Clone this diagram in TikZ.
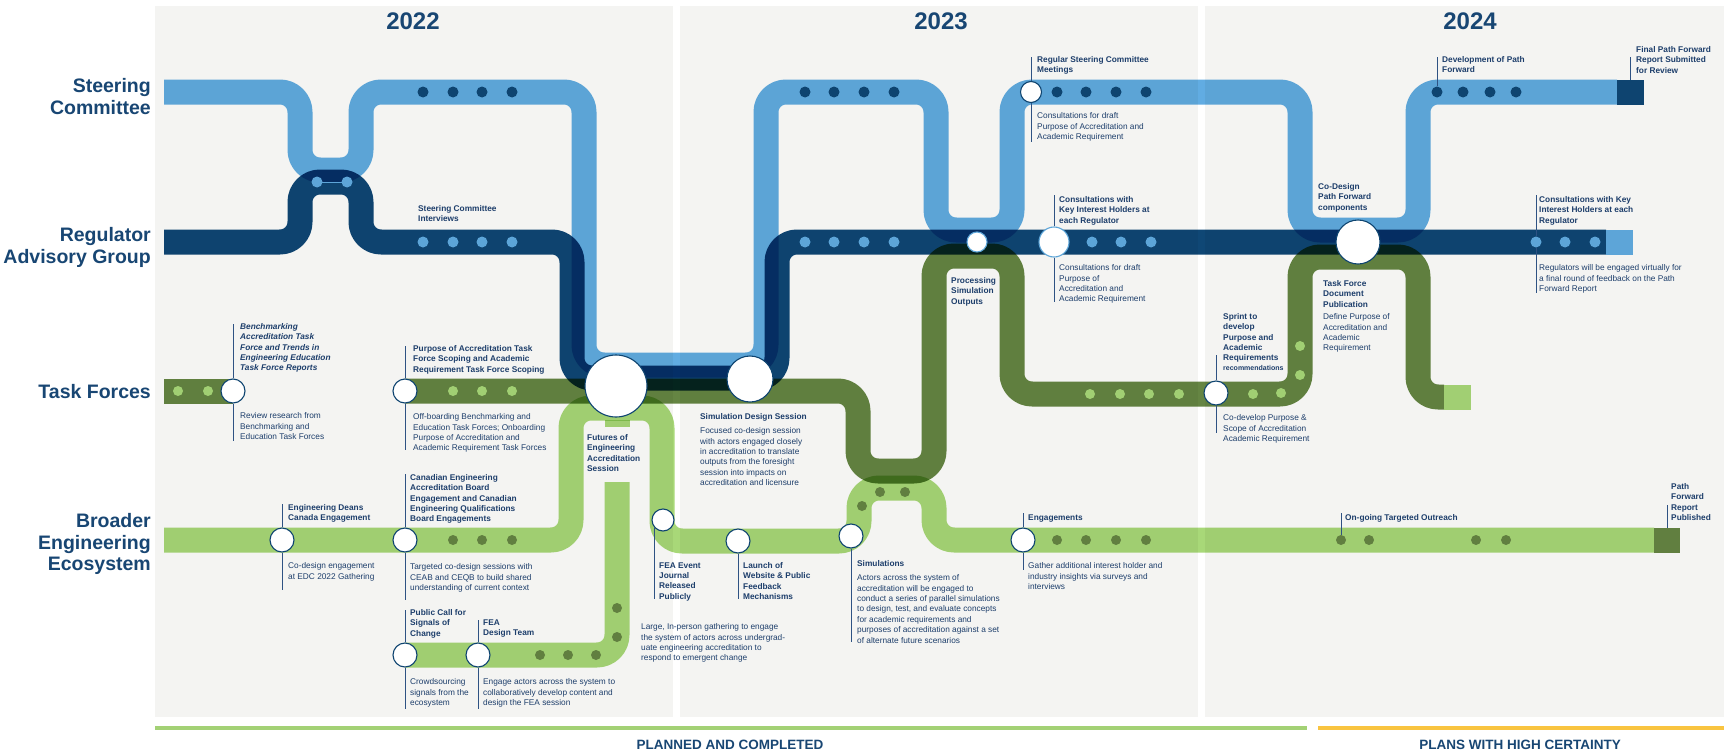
\documentclass[tikz,border=0pt]{standalone}
\usepackage{fontspec}
\setmainfont{Liberation Sans}
\usetikzlibrary{calc}
\definecolor{panelC}{HTML}{F4F4F2}
\definecolor{lbC}{HTML}{61ACE2}
\definecolor{dbC}{HTML}{0F4775}
\definecolor{dgC}{HTML}{658543}
\definecolor{lgC}{HTML}{A8D878}
\definecolor{lbS}{HTML}{5DA5D8}
\definecolor{dbS}{HTML}{0E4470}
\definecolor{dgS}{HTML}{617F40}
\definecolor{lgS}{HTML}{A1CF73}
\definecolor{txtC}{HTML}{1D3E6B}
\definecolor{rowC}{HTML}{184673}
\definecolor{ldrC}{HTML}{2E5283}
\definecolor{yelC}{HTML}{F9C440}
\definecolor{bgrC}{HTML}{A3D175}
\begin{document}
\begin{tikzpicture}[x=1pt,y=-1pt,
  rail/.style={line width=25pt, line cap=butt, line join=round, rounded corners=20pt},
  station/.style={circle, fill=white, draw=dbS, line width=1.1pt, inner sep=0pt, minimum size=#1},
  dotn/.style={circle, fill=#1, inner sep=0pt, minimum size=11pt},
  lab/.style={font=\fontsize{8.3}{10.2}\selectfont\bfseries, text=txtC, align=left, inner sep=0pt, anchor=north west},
  labit/.style={font=\fontsize{8.3}{10.2}\selectfont\bfseries\itshape, text=txtC, align=left, inner sep=0pt, anchor=north west},
  desc/.style={font=\fontsize{8.3}{10.4}\selectfont, text=txtC, align=left, inner sep=0pt, anchor=north west},
  rowlab/.style={font=\fontsize{19.5}{21.8}\selectfont\bfseries, text=rowC, align=right, inner sep=0pt, anchor=north east},
  yearlab/.style={font=\fontsize{24}{26}\selectfont\bfseries, text=rowC, inner sep=0pt},
  botlab/.style={font=\fontsize{13.5}{15}\selectfont\bfseries, text=rowC, inner sep=0pt},
  leader/.style={draw=ldrC, line width=0.9pt},
  endsq/.style={inner sep=0pt, minimum width=27pt, minimum height=25pt, fill=#1}
]
\useasboundingbox (0,0) rectangle (1728,752);
\fill[white] (0,0) rectangle (1728,752);
% panels
\fill[panelC] (155,6) rectangle (673,717);
\fill[panelC] (680,6) rectangle (1198,717);
\fill[panelC] (1205,6) rectangle (1724,717);
% years
\node[yearlab] (y22) at (413,21) {2022};
\node[yearlab] (y23) at (941,21) {2023};
\node[yearlab] (y24) at (1470,21) {2024};
% row labels
\node[rowlab] (rSC) at (151,78) {Steering\\Committee};
\node[rowlab] (rRAG) at (151,227) {Regulator\\Advisory Group};
\node[rowlab] (rTF) at (151,384.5) {Task Forces};
\node[rowlab] (rBEE) at (151,513) {Broader\\Engineering\\Ecosystem};
% bottom bars
\draw[line width=3.5pt, draw=bgrC] (155,728) -- (1307,728);
\draw[line width=3.5pt, draw=yelC] (1318,728) -- (1724,728);
\node[botlab] (bPC) at (730,745) {PLANNED AND COMPLETED};
\node[botlab] (bPH) at (1520,745) {PLANS WITH HIGH CERTAINTY};

% rails
\begin{scope}[blend mode=multiply]
\draw[rail, draw=lbC] (164,92) -- (300,92) -- (300,170) -- (361,170) -- (361,92) -- (584,92) -- (584,365) -- (766,365) -- (766,92) -- (936,92) -- (936,230) -- (1012,230) -- (1012,92) -- (1300,92) -- (1300,230) -- (1418,230) -- (1418,92) -- (1617,92);
\draw[rail, draw=dbC] (164,242) -- (300,242) -- (300,182) -- (361,182) -- (361,242) -- (572,242) -- (572,378) -- (777,378) -- (777,242) -- (1606,242);
\draw[rail, draw=dgC] (164,391) -- (233,391);
\draw[rail, draw=dgC] (405,391) -- (858,391) -- (858,471) -- (934,471) -- (934,256) -- (1012,256) -- (1012,394) -- (1300,394) -- (1300,257) -- (1418,257) -- (1418,397) -- (1444,397);
\draw[rail, draw=lgC] (164,540) -- (571,540) -- (571,408) -- (662,408) -- (662,541) -- (859,541) -- (859,488) -- (934,488) -- (934,540) -- (1654,540);
\draw[rail, draw=lgC] (617,420) -- (617,427);
\draw[rail, draw=lgC] (617,482) -- (617,655) -- (405,655);
\end{scope}

% end squares
\node[endsq=dbS] (sqSC) at (1630.5,92.5) {};
\node[endsq=lbS] (sqRAG) at (1619.5,242.5) {};
\node[endsq=lgS] (sqTF) at (1457.5,397.5) {};
\node[endsq=dgS, minimum width=26pt] (sqBEE) at (1667,540.5) {};

% dots
\draw[lbS, line width=0.8pt] (317,182) -- (347,182);
\foreach \x in {423,453,482,512,805,834,864,894,1057,1086,1116,1146,1437,1463,1490,1516}
  \node[dotn=dbS] (dsc\x) at (\x,92) {};
\foreach \x/\y in {317/182,347/182,423/242,453/242,482/242,512/242,805/242,834/242,864/242,894/242,1092/242,1121/242,1151/242,1536/242,1565/242,1595/242}
  \node[dotn=lbS] (drag\x) at (\x,\y) {};
\foreach \x/\y in {178/391,208/391,453/391,482/391,512/391,1090/394,1120/394,1149/394,1179/394,1253/394,1281/393,1300/375,1300/346}
  \node[dotn=lgS, minimum size=10pt] (dtf\x-\y) at (\x,\y) {};
\foreach \x/\y in {453/540,482/540,512/540,617/608,617/637,540/655,568/655,596/655,862/506,880/492,905/492,1057/540,1086/540,1116/540,1146/540,1341/540,1369/540,1476/540,1506/540}
  \node[dotn=dgS, minimum size=10pt] (dbe\x-\y) at (\x,\y) {};

% stations
\node[station=21pt] (cO) at (1031,92) {};
\node[station=20pt, draw=lbS] (cX1) at (977,242) {};
\node[station=30pt, draw=lbS] (cP) at (1054,242) {};
\node[station=44pt] (cS) at (1358,242) {};
\node[station=24pt] (cA) at (233,391) {};
\node[station=24pt] (cB) at (405,391) {};
\node[station=62pt] (cC) at (616,386) {};
\node[station=46pt] (cK) at (750,379) {};
\node[station=24pt] (cQ) at (1216,393) {};
\node[station=24pt] (cE) at (282,540) {};
\node[station=24pt] (cD) at (405,540) {};
\node[station=22pt] (cH) at (663,520) {};
\node[station=24pt] (cJ) at (738,541) {};
\node[station=24pt] (cL) at (851,536) {};
\node[station=24pt] (cM) at (1023,540) {};
\node[station=24pt] (cF) at (405,655) {};
\node[station=24pt] (cG) at (478,655) {};

% leader end coordinates
\coordinate (eA1) at (233,324); \coordinate (eA2) at (233,441);
\coordinate (eB1) at (405,346); \coordinate (eB2) at (405,450);
\coordinate (eD1) at (405,474); \coordinate (eD2) at (405,600);
\coordinate (eE1) at (282,504); \coordinate (eE2) at (282,590);
\coordinate (eF1) at (405,610); \coordinate (eF2) at (405,709);
\coordinate (eG1) at (478,620); \coordinate (eG2) at (478,709);
\coordinate (eH2) at (655,599);
\coordinate (eJ2) at (738,599);
\coordinate (eL2) at (851,642);
\coordinate (eM1) at (1023,513); \coordinate (eM2) at (1023,570);
\coordinate (eO1) at (1031,57); \coordinate (eO2) at (1031,142);
\coordinate (eP1) at (1054,195); \coordinate (eP2) at (1054,302);
\coordinate (eQ1) at (1216,355); \coordinate (eQ2) at (1216,433);
\coordinate (eT1) at (1437,57);
\coordinate (eU1) at (1630.5,57);
\coordinate (eV1) at (1536,195); \coordinate (eV2) at (1536,293);
\coordinate (eW1) at (1341,513);
\coordinate (eX1) at (1667,505);

\draw[leader] (cA) -- (eA1); \draw[leader] (cA) -- (eA2);
\draw[leader] (cB) -- (eB1); \draw[leader] (cB) -- (eB2);
\draw[leader] (cD) -- (eD1); \draw[leader] (cD) -- (eD2);
\draw[leader] (cE) -- (eE1); \draw[leader] (cE) -- (eE2);
\draw[leader] (cF) -- (eF1); \draw[leader] (cF) -- (eF2);
\draw[leader] (cG) -- (eG1); \draw[leader] (cG) -- (eG2);
\draw[leader] (cH.south west) -- (cH.south west |- eH2);
\draw[leader] (cJ) -- (eJ2);
\draw[leader] (cL) -- (eL2);
\draw[leader] (cM) -- (eM1); \draw[leader] (cM) -- (eM2);
\draw[leader] (cO) -- (eO1); \draw[leader] (cO) -- (eO2);
\draw[leader] (cP) -- (eP1); \draw[leader] (cP) -- (eP2);
\draw[leader] (cQ) -- (eQ1); \draw[leader] (cQ) -- (eQ2);
\draw[leader] (dsc1437) -- (eT1);
\draw[leader] (sqSC) -- (eU1);
\draw[leader] (drag1536) -- (eV1); \draw[leader] (drag1536) -- (eV2);
\draw[leader] (dbe1341-540) -- (eW1);
\draw[leader] (sqBEE) -- (eX1);

% labels
\node[lab] (tSC) at (418,205.5) {Steering Committee\\Interviews};
\node[labit] (tA) at (240,323.5) {Benchmarking\\Accreditation Task\\Force and Trends in\\Engineering Education\\Task Force Reports};
\node[desc] (tAd) at (240,412.5) {Review research from\\Benchmarking and\\Education Task Forces};
\node[lab] (tB) at (413,345.5) {Purpose of Accreditation Task\\Force Scoping and Academic\\Requirement Task Force Scoping};
\node[desc] (tBd) at (413,413.5) {Off-boarding Benchmarking and\\Education Task Forces; Onboarding\\Purpose of Accreditation and\\Academic Requirement Task Forces};
\node[lab] (tC) at (587,434.5) {Futures of\\Engineering\\Accreditation\\Session};
\node[lab] (tD) at (410,474.5) {Canadian Engineering\\Accreditation Board\\Engagement and Canadian\\Engineering Qualifications\\Board Engagements};
\node[desc] (tDd) at (410,563.5) {Targeted co-design sessions with\\CEAB and CEQB to build shared\\understanding of current context};
\node[lab] (tE) at (288,504.5) {Engineering Deans\\Canada Engagement};
\node[desc] (tEd) at (288,562.5) {Co-design engagement\\at EDC 2022 Gathering};
\node[lab] (tF) at (410,609.5) {Public Call for\\Signals of\\Change};
\node[desc] (tFd) at (410,678.5) {Crowdsourcing\\signals from the\\ecosystem};
\node[lab] (tG) at (483,619.5) {FEA\\Design Team};
\node[desc] (tGd) at (483,678.5) {Engage actors across the system to\\collaboratively develop content and\\design the FEA session};
\node[lab] (tH) at (659,562.5) {FEA Event\\Journal\\Released\\Publicly};
\node[desc] (tI) at (641,623.5) {Large, In-person gathering to engage\\the system of actors across undergrad-\\uate engineering accreditation to\\respond to emergent change};
\node[lab] (tJ) at (743,562.5) {Launch of\\Website \& Public\\Feedback\\Mechanisms};
\node[lab] (tK) at (700,413.5) {Simulation Design Session};
\node[desc] (tKd) at (700,427.5) {Focused co-design session\\with actors engaged closely\\in accreditation to translate\\outputs from the foresight\\session into impacts on\\accreditation and licensure};
\node[lab] (tL) at (857,560.5) {Simulations};
\node[desc] (tLd) at (857,574.5) {Actors across the system of\\accreditation will be engaged to\\conduct a series of parallel simulations\\to design, test, and evaluate concepts\\for academic requirements and\\purposes of accreditation against a set\\of alternate future scenarios};
\node[lab] (tM) at (1028,514.5) {Engagements};
\node[desc] (tMd) at (1028,562.5) {Gather additional interest holder and\\industry insights via surveys and\\interviews};
\node[lab] (tN) at (951,277.5) {Processing\\Simulation\\Outputs};
\node[lab] (tO) at (1037,56.5) {Regular Steering Committee\\Meetings};
\node[desc] (tOd) at (1037,112.5) {Consultations for draft\\Purpose of Accreditation and\\Academic Requirement};
\node[lab] (tP) at (1059,196.5) {Consultations with\\Key Interest Holders at\\each Regulator};
\node[desc] (tPd) at (1059,264.5) {Consultations for draft\\Purpose of\\Accreditation and\\Academic Requirement};
\node[lab] (tQ) at (1223,313.5) {Sprint to\\develop\\Purpose and\\Academic\\Requirements\\{\fontsize{7}{10}\selectfont recommendations}};
\node[desc] (tQd) at (1223,414.5) {Co-develop Purpose \&\\Scope of Accreditation\\Academic Requirement};
\node[lab] (tR) at (1323,280.5) {Task Force\\Document\\Publication};
\node[desc] (tRd) at (1323,313.5) {Define Purpose of\\Accreditation and\\Academic\\Requirement};
\node[lab] (tS) at (1318,183.5) {Co-Design\\Path Forward\\components};
\node[lab] (tT) at (1442,56.5) {Development of Path\\Forward};
\node[lab] (tU) at (1636,46.5) {Final Path Forward\\Report Submitted\\for Review};
\node[lab] (tV) at (1539,196.5) {Consultations with Key\\Interest Holders at each\\Regulator};
\node[desc] (tVd) at (1539,264.5) {Regulators will be engaged virtually for\\a final round of feedback on the Path\\Forward Report};
\node[lab] (tW) at (1345,514.5) {On-going Targeted Outreach};
\node[lab] (tX) at (1671,483.5) {Path\\Forward\\Report\\Published};
\end{tikzpicture}
\end{document}
